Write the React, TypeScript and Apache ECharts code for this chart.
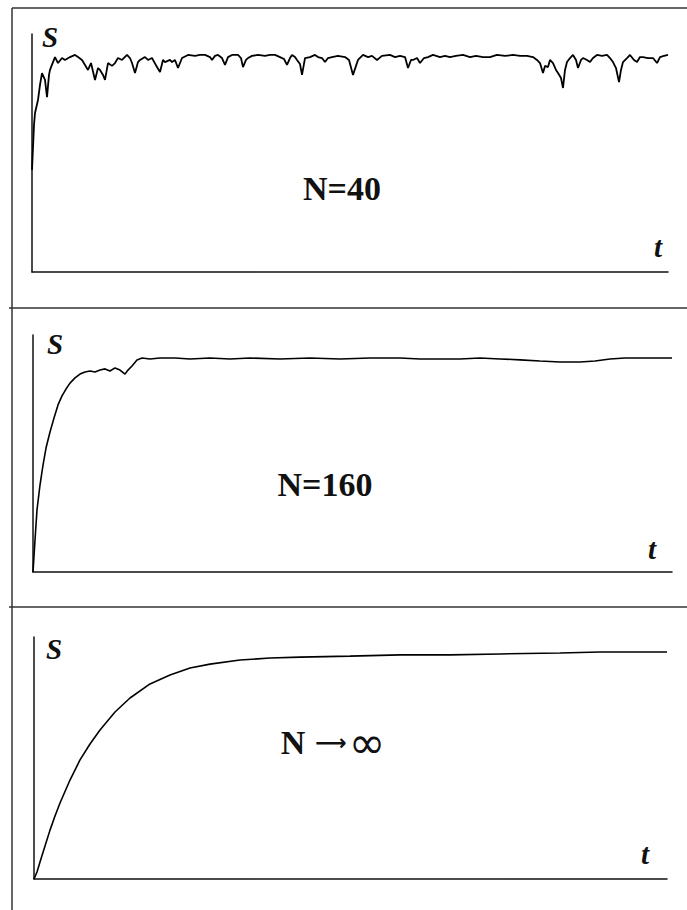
import React, { useEffect, useRef } from "react";
import * as echarts from "echarts";

// Panel 1 (N=40): time step, S (% of axis)
const T40 = [
  0, 2, 3, 6, 8, 10, 13, 15, 17, 18,
  21, 23, 26, 30, 33, 38, 43, 46, 50, 53,
  56, 59, 63, 66, 68, 71, 73, 76, 80, 83,
  86, 90, 95, 98, 100, 103, 106, 108, 113, 116,
  120, 125, 128, 131, 133, 138, 140, 143, 146, 150,
  156, 163, 168, 173, 178, 180, 183, 186, 190, 193,
  196, 200, 206, 209, 211, 214, 216, 220, 226, 233,
  238, 243, 248, 252, 255, 258, 260, 263, 265, 268,
  270, 273, 278, 283, 286, 290, 293, 296, 300, 306,
  313, 317, 321, 324, 326, 331, 336, 340, 345, 350,
  358, 363, 368, 373, 376, 379, 381, 385, 388, 392,
  396, 401, 408, 413, 418, 424, 431, 438, 444, 451,
  458, 465, 473, 481, 488, 495, 501, 505, 508, 511,
  513, 516, 518, 521, 524, 526, 529, 531, 533, 535,
  538, 541, 544, 546, 549, 551, 555, 558, 561, 565,
  570, 575, 578, 581, 584, 587, 589, 591, 595, 598,
  602, 605, 608, 611, 616, 621, 625, 628, 632, 636,
];
const S40 = [
  42.9, 61.8, 66.8, 72.3, 78.6, 83.6, 80.7, 73.5, 82.8, 84.9,
  88.2, 90.3, 87.8, 89.9, 89.1, 90.3, 91.2, 90.3, 89.1, 87.0,
  84.9, 87.8, 80.7, 85.7, 84.9, 82.8, 80.7, 87.8, 86.6, 87.8,
  89.9, 89.1, 91.2, 89.9, 87.8, 83.6, 88.2, 89.1, 90.3, 89.1,
  89.9, 86.1, 84.0, 89.1, 88.2, 89.1, 88.2, 89.1, 85.7, 89.9,
  91.2, 90.8, 91.2, 91.2, 90.3, 89.1, 90.8, 91.2, 89.9, 87.0,
  90.3, 91.2, 91.2, 89.9, 86.1, 89.1, 89.9, 90.8, 91.2, 90.8,
  91.2, 91.2, 90.3, 89.5, 87.0, 89.9, 91.2, 90.3, 89.1, 87.4,
  82.8, 89.9, 90.3, 91.2, 90.3, 89.9, 88.2, 89.9, 90.3, 90.8,
  90.3, 89.1, 82.8, 86.6, 89.1, 91.2, 90.3, 90.8, 89.1, 90.8,
  91.2, 90.3, 90.8, 90.3, 85.7, 89.1, 89.1, 89.9, 87.8, 89.9,
  90.3, 91.2, 90.3, 90.8, 90.3, 90.8, 91.2, 90.3, 90.8, 90.3,
  90.3, 91.2, 90.8, 91.2, 90.8, 90.8, 90.3, 89.1, 87.8, 83.6,
  86.6, 86.1, 89.1, 87.8, 84.9, 83.6, 81.5, 77.3, 84.9, 88.2,
  89.9, 91.2, 89.1, 85.7, 89.1, 89.9, 89.1, 88.2, 89.9, 91.2,
  90.8, 91.2, 89.9, 88.2, 85.7, 79.8, 84.9, 88.2, 89.9, 91.2,
  89.1, 88.2, 90.3, 90.3, 89.9, 89.9, 87.8, 90.3, 90.8, 91.2,
];

// Panel 2 (N=160)
const T160 = [
  0, 2, 4, 7, 10, 13, 17, 21, 25, 29,
  33, 37, 42, 47, 52, 57, 62, 67, 72, 77,
  82, 87, 92, 95, 99, 104, 109, 117, 127, 142,
  157, 177, 197, 217, 247, 277, 307, 337, 367, 387,
  407, 427, 447, 467, 487, 507, 527, 547, 562, 577,
  592, 607, 622, 639,
];
const S160 = [
  0, 13.5, 26.2, 36.7, 45.1, 52.3, 59.1, 65.0, 70.5, 74.3,
  77.2, 79.7, 81.9, 83.5, 84.4, 84.8, 84.4, 85.2, 85.7, 84.8,
  86.1, 85.2, 83.5, 85.2, 86.9, 89.5, 90.3, 89.9, 90.3, 90.3,
  89.9, 90.3, 89.9, 90.3, 89.9, 90.3, 89.9, 90.3, 90.3, 89.9,
  89.9, 89.9, 90.3, 89.9, 89.5, 89.0, 88.6, 88.6, 89.0, 89.9,
  90.3, 90.3, 90.3, 90.3,
];

// Panel 3 (N -> infinity)
const TINF = [
  0, 3, 6, 11, 16, 21, 26, 36, 46, 56,
  66, 81, 96, 116, 136, 156, 176, 206, 236, 266,
  316, 366, 416, 466, 526, 566, 633,
];
const SINF = [
  0, 2.9, 7.0, 13.6, 20.2, 26.0, 31.4, 40.9, 49.2, 55.8,
  61.6, 69.0, 74.8, 80.6, 84.3, 87.2, 88.8, 90.5, 91.3, 91.7,
  92.1, 92.6, 92.6, 93.0, 93.4, 93.8, 93.8,
];

const T_MAX = [636, 639, 633];
const PANEL_LABELS = ["N=40", "N=160", "{n|N}{a|⟶}{i|∞}"];

function zip(t: number[], s: number[]) {
  return t.map((v, i) => [v, s[i]]);
}

export default function App() {
  const ref = useRef<HTMLDivElement>(null);
  useEffect(() => {
    if (!ref.current) return;
    const chart = echarts.init(ref.current, null, { renderer: "svg" });
    const axisLine = { show: true, onZero: false, lineStyle: { color: "#111", width: 1.5 } };
    const grids = [
      { left: 32, top: 34, width: 636, height: 238 },
      { left: 33, top: 335, width: 639, height: 237 },
      { left: 34, top: 637, width: 633, height: 242 },
    ];
    const datasets = [zip(T40, S40), zip(T160, S160), zip(TINF, SINF)];
    const frameColor = "#333";
    const serif = "'Liberation Serif', 'Times New Roman', serif";
    const sans = "'DejaVu Sans', sans-serif";
    const axisLetter = (text: string, x: number, y: number) => ({
      type: "text",
      x,
      y,
      style: {
        text,
        fill: "#111",
        fontSize: 29,
        fontWeight: "bold",
        fontStyle: "italic",
        fontFamily: serif,
        textAlign: "center",
        textVerticalAlign: "middle",
      },
    });
    const nLabel = (text: string, x: number, y: number) => ({
      type: "text",
      x,
      y,
      style: {
        text,
        fill: "#111",
        fontSize: 34,
        fontWeight: "bold",
        fontFamily: serif,
        textAlign: "center",
        textVerticalAlign: "middle",
        rich: {
          n: { fontSize: 34, fontWeight: "bold", fontFamily: serif, fill: "#111" },
          a: {
            fontSize: 22,
            fontWeight: "bold",
            fontFamily: sans,
            fill: "#111",
            padding: [0, 2, 0, 10],
          },
          i: { fontSize: 44, fontWeight: "normal", fontFamily: sans, fill: "#111" },
        },
      },
    });
    chart.setOption({
      animation: false,
      backgroundColor: "#fff",
      grid: grids,
      xAxis: grids.map((_, i) => ({
        gridIndex: i,
        type: "value",
        min: 0,
        max: T_MAX[i],
        axisLine,
        axisTick: { show: false },
        axisLabel: { show: false },
        splitLine: { show: false },
      })),
      yAxis: grids.map((_, i) => ({
        gridIndex: i,
        type: "value",
        min: 0,
        max: 100,
        axisLine,
        axisTick: { show: false },
        axisLabel: { show: false },
        splitLine: { show: false },
      })),
      series: datasets.map((d, i) => ({
        type: "line",
        xAxisIndex: i,
        yAxisIndex: i,
        data: d,
        showSymbol: false,
        lineStyle: { color: "#000", width: i === 0 ? 1.8 : 1.6 },
      })),
      graphic: [
        { type: "line", shape: { x1: 12, y1: 8, x2: 12, y2: 910 }, style: { stroke: frameColor, lineWidth: 1.5 } },
        { type: "line", shape: { x1: 12, y1: 8, x2: 687, y2: 8 }, style: { stroke: frameColor, lineWidth: 1.5 } },
        { type: "line", shape: { x1: 9, y1: 308, x2: 687, y2: 308 }, style: { stroke: frameColor, lineWidth: 1.5 } },
        { type: "line", shape: { x1: 9, y1: 607, x2: 687, y2: 607 }, style: { stroke: frameColor, lineWidth: 1.5 } },
        axisLetter("S", 50, 37),
        axisLetter("S", 55, 344),
        axisLetter("S", 54, 649),
        axisLetter("t", 658, 247),
        axisLetter("t", 652, 549),
        axisLetter("t", 645, 854),
        nLabel(PANEL_LABELS[0], 342, 188),
        nLabel(PANEL_LABELS[1], 325, 484),
        nLabel(PANEL_LABELS[2], 333, 742),
      ],
    });
    return () => chart.dispose();
  }, []);
  return (
    <div
      ref={ref}
      style={{ position: "fixed", left: 0, top: 0, width: 687, height: 910, background: "#fff" }}
    />
  );
}
